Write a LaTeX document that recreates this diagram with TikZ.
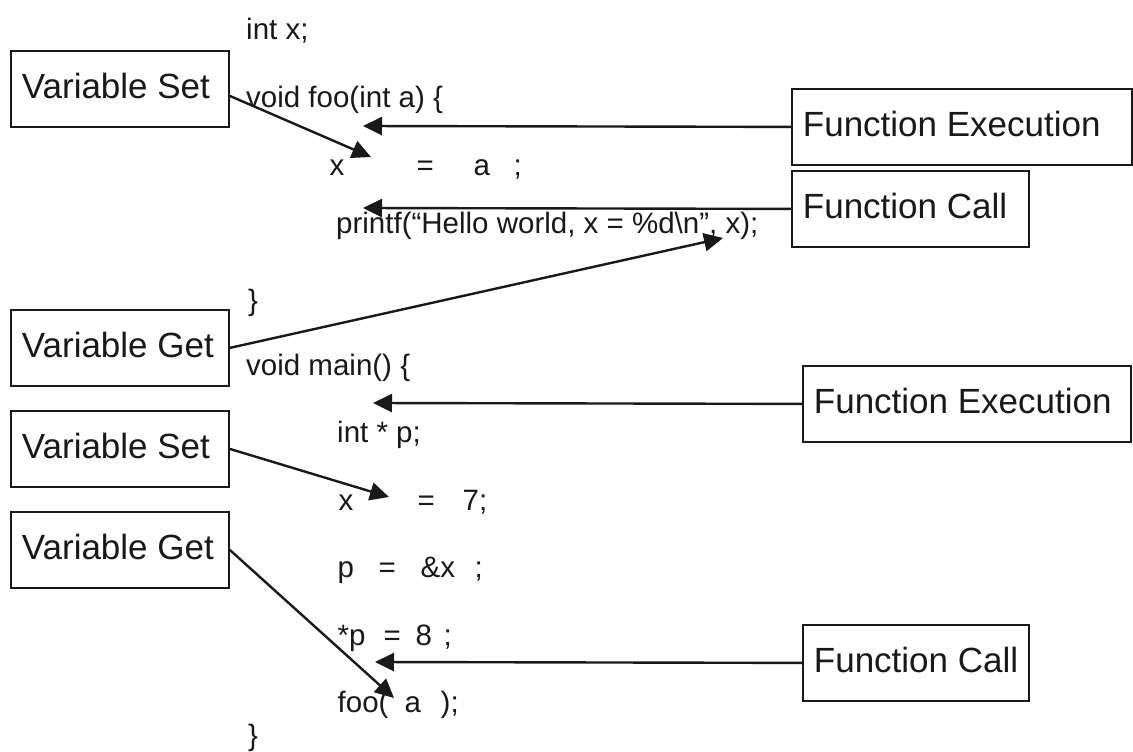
\documentclass[tikz,border=0pt]{standalone}
\usepackage{fontspec}
\setmainfont{Liberation Sans}
\usetikzlibrary{arrows.meta}
\newcommand{\tokat}[2]{\makebox[0pt][l]{\hspace{#1pt}#2}}
\definecolor{ink}{RGB}{25,25,25}
\begin{document}
\begin{tikzpicture}[x=1pt,y=-1pt,
  labelbox/.style={draw=ink, line width=1.8pt, anchor=north west, inner xsep=11pt, inner ysep=0pt,
    text height=48pt, text depth=28pt, font=\fontsize{35}{40}\selectfont, text=ink},
  codeline/.style={anchor=base west, inner sep=0pt, font=\fontsize{29.5}{33}\selectfont, text=ink},
  pointer/.style={draw=ink, line width=2.4pt, -{Triangle[length=19pt,width=18pt]}}]

\fill[white] (0,0) rectangle (1133,752);
\useasboundingbox (0,0) rectangle (1133,752);

% code lines
\node[codeline] (c1)  at (246,40)  {int x;};
\node[codeline] (c2)  at (246,107) {void foo(int a) \{};
\node[codeline] (c3)  at (329,175) {\tokat{0}{x}\tokat{87}{=}\tokat{144}{a}\tokat{184}{;}};
\node[codeline] (c4)  at (336,233) {printf(“Hello world, x = \%d\textbackslash n”, x);};
\node[codeline] (c5)  at (248,310) {\}};
\node[codeline] (c6)  at (246,375) {void main() \{};
\node[codeline] (c7)  at (337,442) {int * p;};
\node[codeline] (c8)  at (338,510) {\tokat{0}{x}\tokat{79}{=}\tokat{124}{7;}};
\node[codeline] (c9)  at (337,577) {\tokat{0}{p}\tokat{41}{=}\tokat{83}{\&x}\tokat{137}{;}};
\node[codeline] (c10) at (337,645) {\tokat{0}{*p}\tokat{46}{=}\tokat{78}{8}\tokat{106}{;}};
\node[codeline] (c11) at (337,712) {\tokat{0}{foo(}\tokat{67}{a}\tokat{103}{);}};
\node[codeline] (c12) at (248,745) {\}};

% label boxes
\node[labelbox] (vs1) at (10,50)  {\makebox[196pt][l]{Variable Set}};
\node[labelbox] (vg1) at (10,309) {\makebox[196pt][l]{Variable Get}};
\node[labelbox] (vs2) at (10,410) {\makebox[196pt][l]{Variable Set}};
\node[labelbox] (vg2) at (10,511) {\makebox[196pt][l]{Variable Get}};
\node[labelbox] (fe1) at (791,88)  {\makebox[318pt][l]{Function Execution}};
\node[labelbox] (fc1) at (791,170) {\makebox[215pt][l]{Function Call}};
\node[labelbox] (fe2) at (802,365) {\makebox[306pt][l]{Function Execution}};
\node[labelbox] (fc2) at (802,624) {\makebox[204pt][l]{Function Call}};

% arrow tips
\coordinate (tfe1) at (363,126);
\coordinate (tfc1) at (363,208);
\coordinate (tfe2) at (373,403);
\coordinate (tfc2) at (375,662);
\coordinate (tvs1) at (371,157);
\coordinate (tvg1) at (723,238);
\coordinate (tvs2) at (389,497);
\coordinate (tvg2) at (394,698);

\draw[pointer] (fe1.west) -- (tfe1);
\draw[pointer] (fc1.west) -- (tfc1);
\draw[pointer] (fe2.west) -- (tfe2);
\draw[pointer] (fc2.west) -- (tfc2);
\draw[pointer] ([yshift=-7pt]vs1.east) -- (tvs1);
\draw[pointer] (vg1.east) -- (tvg1);
\draw[pointer] (vs2.east) -- (tvs2);
\draw[pointer] (vg2.east) -- (tvg2);
\end{tikzpicture}
\end{document}
